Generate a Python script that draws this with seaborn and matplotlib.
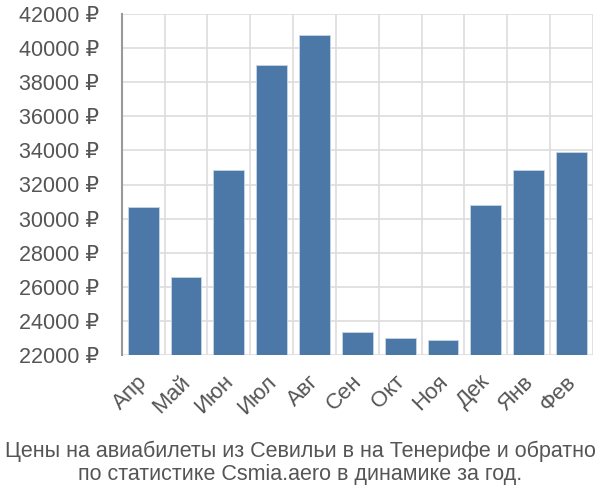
import numpy as np
import pandas as pd
import matplotlib.pyplot as plt
import matplotlib.transforms as mtransforms
import seaborn as sns

months = ["Апр", "Май", "Июн", "Июл", "Авг", "Сен", "Окт", "Ноя", "Дек", "Янв", "Фев"]
prices = [30700, 26600, 32850, 39000, 40780, 23350, 22980, 22880, 30800, 32850, 33900]
y_ticks = list(range(22000, 42001, 2000))
title = "Цены на авиабилеты из Севильи в на Тенерифе и обратно\nпо статистике Csmia.aero в динамике за год."

sns.set_style("white")
plt.rcParams["font.family"] = ["Liberation Sans", "DejaVu Sans"]

df = pd.DataFrame({"month": months, "price": prices})

fig = plt.figure(figsize=(6, 5), dpi=100)
ax = fig.add_axes([0.203, 0.29, 0.785, 0.682])

sns.barplot(data=df, x="month", y="price", color="#4c78a8", width=0.72,
            saturation=1, edgecolor="#c8d6e6", linewidth=0.6, ax=ax, zorder=3)

ax.set_ylim(22000, 42000)
ax.set_xlim(-0.5, len(months) - 0.5)
ax.set_yticks(y_ticks)
ax.set_yticklabels([f"{v} ₽" for v in y_ticks], fontsize=15.5, color="#555555")

# grid lines sit between categories
ax.set_xticks(np.arange(len(months)))
ax.set_xticks(np.arange(-0.5, len(months), 1), minor=True)
ax.set_xticklabels(months, rotation=45, ha="right", rotation_mode="anchor",
                   fontsize=16, color="#555555")
ax.tick_params(axis="x", which="major", length=0, pad=6)
ax.tick_params(axis="x", which="minor", length=12, color="#dddddd", width=1.2)
ax.tick_params(axis="y", length=15, color="#dddddd", width=1.2, pad=1.5)
ax.grid(True, axis="x", which="minor", color="#dddddd", linewidth=1.2, zorder=0)
ax.grid(True, axis="y", color="#dddddd", linewidth=1.2, zorder=0)

# nudge month labels a bit down-left
shift = mtransforms.ScaledTranslation(-0.06, -0.08, fig.dpi_scale_trans)
for lbl in ax.get_xticklabels():
    lbl.set_transform(lbl.get_transform() + shift)

ax.set_xlabel("")
ax.set_ylabel("")
for s in ["top", "right", "bottom"]:
    ax.spines[s].set_visible(False)
ax.spines["left"].set_color("#999999")
ax.spines["left"].set_linewidth(1.5)
ax.spines["left"].set_zorder(4)

fig.text(0.5, 0.03, title, ha="center", va="bottom", fontsize=15.5,
         color="#555555", linespacing=1.15)

plt.savefig("out.png", dpi=100)
